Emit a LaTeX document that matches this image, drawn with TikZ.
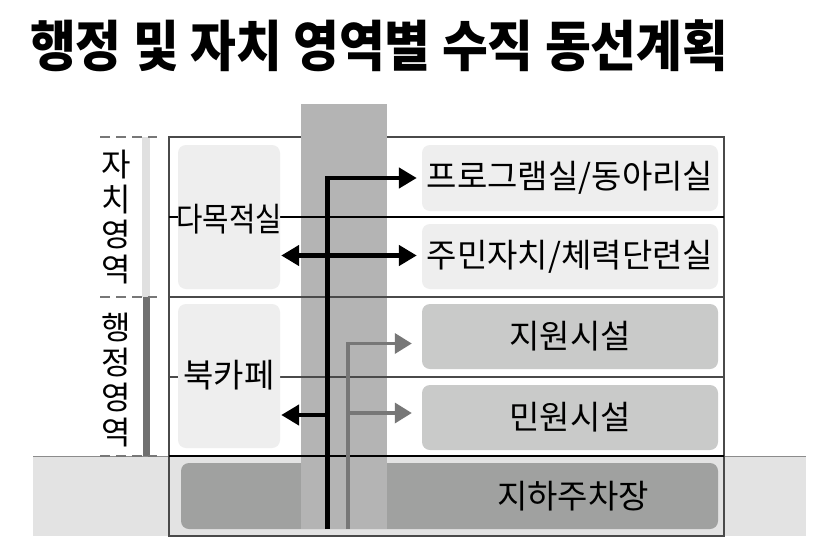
\documentclass[tikz,border=0pt]{standalone}
\usepackage{fontspec}
\setmainfont{Noto Sans CJK KR}
\usetikzlibrary{arrows.meta}
\definecolor{boxlight}{HTML}{EEEEEE}
\definecolor{boxmid}{HTML}{C9CAC9}
\definecolor{boxdark}{HTML}{A0A1A0}
\definecolor{shaftgray}{HTML}{B4B4B4}
\definecolor{groundgray}{HTML}{E3E3E3}
\definecolor{linegray}{HTML}{777777}
\definecolor{barlight}{HTML}{E0E0E0}
\definecolor{bardark}{HTML}{707070}
\definecolor{outline}{HTML}{4A4A4A}
\tikzset{
  room/.style={rounded corners=8pt, inner sep=0pt, font=\fontsize{33}{38}\selectfont},
  roomlabel/.style={inner sep=0pt, font=\fontsize{33}{38}\selectfont},
  floorline/.style={line width=1.2pt, draw=black},
  blackflow/.style={line width=4.5pt, draw=black, -{Triangle[length=18pt,width=20pt]}},
  grayflow/.style={line width=3.5pt, draw=linegray, -{Triangle[length=17pt,width=20pt]}},
  dashmark/.style={draw=linegray, line width=1.6pt, dash pattern=on 10pt off 6pt},
  sidelabel/.style={inner sep=0pt, align=center, font=\fontsize{32}{35}\selectfont},
}
\begin{document}
\begin{tikzpicture}[x=1pt, y=-1pt]
\useasboundingbox (0,0) rectangle (829,557);
% title
\node[anchor=base west, inner sep=0pt, font=\fontsize{55}{60}\selectfont\bfseries] (title) at (30,66)
  {\scalebox{0.905}[1]{행정 및 자치 영역별 수직 동선계획}};
% ground
\fill[groundgray] (33,456) rectangle (806,536);
\draw[line width=0.8pt, draw=black!45] (33,456) -- (806,456);
% building
\fill[white] (169,137) rectangle (724,456);
\draw[line width=1.2pt, draw=outline] (169,137) rectangle (724,536);
% parking
\node[room, fill=boxdark, minimum width=537pt, minimum height=66pt] (parking) at (449.5,496) {};
% shaft
\fill[shaftgray] (301,104) rectangle (387,529);
% floor lines
\draw[floorline] (169,217) -- (724,217);
\draw[line width=1.2pt, draw=outline] (169,297) -- (724,297);
\draw[line width=1.2pt, draw=outline] (169,377) -- (724,377);
\draw[floorline] (169,456) -- (724,456);
% rooms
\node[room, fill=boxlight, minimum width=102pt, minimum height=144pt] (dmj) at (229,217) {};
\node[roomlabel] (dmjl) at (229,219) {\scalebox{0.87}[1]{다목적실}};
\node[room, fill=boxlight, minimum width=102pt, minimum height=144pt] (cafe) at (229,376) {};
\node[roomlabel] (cafel) at (229,375) {북카페};
\node[room, fill=boxlight, minimum width=296pt, minimum height=66pt] (prog) at (570,178) {프로그램실/동아리실};
\node[room, fill=boxlight, minimum width=296pt, minimum height=65pt] (jumin) at (570,256.5) {주민자치/체력단련실};
\node[room, fill=boxmid, minimum width=296pt, minimum height=65pt] (jiwon) at (570,336.5) {지원시설};
\node[room, fill=boxmid, minimum width=296pt, minimum height=65pt] (minwon) at (570,417.5) {민원시설};
\node[roomlabel] (parkl) at (573,496) {지하주차장};
% flow coordinates
\coordinate (bk0) at (327.5,529);
\coordinate (bk1) at (327.5,178);
\coordinate (bk2) at (327.5,255.5);
\coordinate (bk3) at (327.5,415);
\coordinate (gr0) at (348,529);
\coordinate (gr1) at (348,343.5);
\coordinate (gr2) at (348,413);
% gray flows
\draw[grayflow] (gr0) -- (gr1) -- ([xshift=-10pt]gr1 -| jiwon.west);
\draw[grayflow] (gr2) -- ([xshift=-10pt]gr2 -| minwon.west);
% black flows
\draw[blackflow] (bk0) -- (bk1) -- ([xshift=-5pt]bk1 -| prog.west);
\draw[blackflow, {Triangle[length=18pt,width=20pt]}-{Triangle[length=18pt,width=20pt]}] ([xshift=1pt]dmj.east |- bk2) -- ([xshift=-5pt]bk2 -| jumin.west);
\draw[blackflow] ([xshift=2.25pt]bk3) -- ([xshift=1pt]cafe.east |- bk3);
% side labels
\draw[barlight, line width=8pt] (146,137) -- (146,297);
\draw[bardark, line width=7pt] (146.5,297) -- (146.5,456);
\draw[dashmark] (100,137) -- (157,137);
\draw[dashmark] (100,297) -- (157,297);
\draw[dashmark] (100,456) -- (157,456);
\node[sidelabel] (jachi) at (116,217) {자\\치\\영\\역};
\node[sidelabel] (haeng) at (116,380) {행\\정\\영\\역};
\end{tikzpicture}
\end{document}
